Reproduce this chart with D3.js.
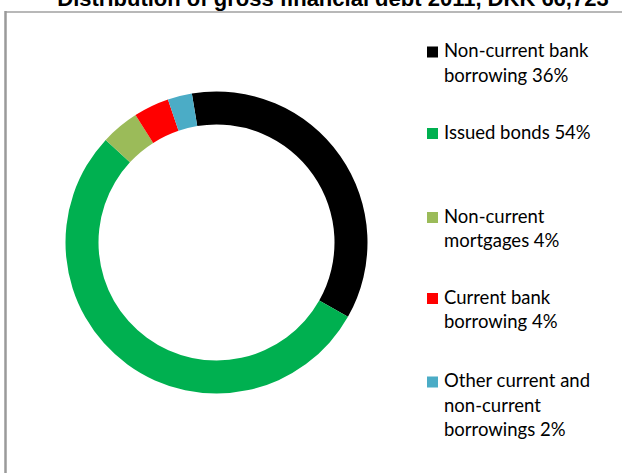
<!DOCTYPE html>
<html>
<head>
<meta charset="utf-8">
<script src="https://cdn.jsdelivr.net/npm/d3@7"></script>
<style>
  html, body { margin: 0; padding: 0; background: #fff; }
  svg { display: block; }
</style>
</head>
<body>
<svg class="chart" width="622" height="473"></svg>
<script>
const title = "Distribution of gross financial debt 2011, DKK 66,723";
const categories = [
  "Non-current bank borrowing",
  "Issued bonds",
  "Non-current mortgages",
  "Current bank borrowing",
  "Other current and non-current borrowings",
];
const values = [35.8, 53.7, 4.1, 3.8, 2.6];
const labels = ["36%", "54%", "4%", "4%", "2%"];
const colors = ["#000000", "#00B050", "#9BBB59", "#FF0000", "#4BACC6"];
// legend text as wrapped in the original
const legendLines = [
  ["Non-current bank", "borrowing 36%"],
  ["Issued bonds 54%"],
  ["Non-current", "mortgages 4%"],
  ["Current bank", "borrowing 4%"],
  ["Other current and", "non-current", "borrowings 2%"],
];

const svg = d3.select(".chart");
const width = +svg.attr("width");
const height = +svg.attr("height");

// chart frame (partly cut off in the original)
svg.append("line")
  .attr("x1", 5).attr("x2", width)
  .attr("y1", 12).attr("y2", 12)
  .attr("stroke", "#a0a0a0").attr("stroke-width", 1.5);
svg.append("line")
  .attr("x1", 5.5).attr("x2", 5.5)
  .attr("y1", 11).attr("y2", height)
  .attr("stroke", "#9a9a9a").attr("stroke-width", 2.5);

// title sits mostly above the visible area, like the source screenshot
svg.append("text")
  .attr("x", 333)
  .attr("y", 5.5)
  .attr("text-anchor", "middle")
  .attr("font-family", "'Liberation Sans', Arial, sans-serif")
  .attr("font-weight", "bold")
  .attr("font-size", 22)
  .attr("fill", "#000")
  .text(title);

const cx = 216.5, cy = 242.5;
const outerR = 151, innerR = 118;
const startAngle = -9.4 * Math.PI / 180;

const pie = d3.pie()
  .sort(null)
  .value((d) => d)
  .startAngle(startAngle)
  .endAngle(startAngle + 2 * Math.PI);

const arc = d3.arc().innerRadius(innerR).outerRadius(outerR);

const g = svg.append("g").attr("transform", `translate(${cx},${cy})`);
g.selectAll("path")
  .data(pie(values))
  .enter()
  .append("path")
  .attr("d", arc)
  .attr("fill", (d, i) => colors[i]);

// legend
const rowY = [52, 133.5, 217.5, 298.5, 382];
const lineH = 24.5;
const legend = svg.append("g").attr("class", "legend");
const items = legend.selectAll("g")
  .data(categories)
  .enter()
  .append("g")
  .attr("transform", (d, i) => `translate(427,${rowY[i]})`);

items.append("rect")
  .attr("x", 0).attr("y", -5.5)
  .attr("width", 11).attr("height", 11)
  .attr("fill", (d, i) => colors[i]);

items.append("text")
  .attr("font-family", "Lato, 'Open Sans', sans-serif")
  .attr("font-size", 18.5)
  .attr("fill", "#000")
  .each(function (d, i) {
    const t = d3.select(this);
    legendLines[i].forEach((ln, j) => {
      t.append("tspan")
        .attr("x", 17)
        .attr("y", j * lineH - 1)
        .attr("dy", "0.35em")
        .text(ln);
    });
  });
</script>
</body>
</html>
